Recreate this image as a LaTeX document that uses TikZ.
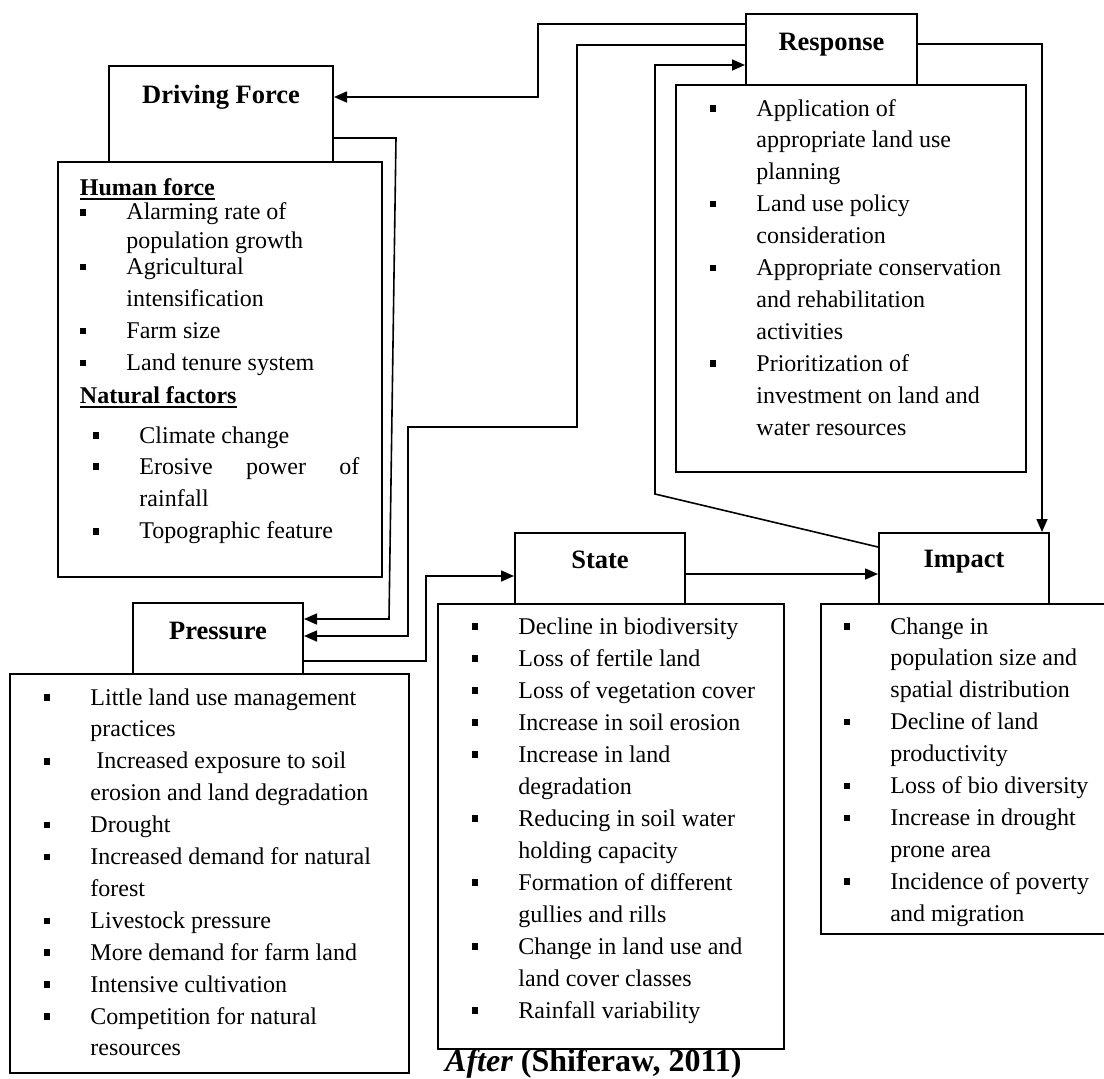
\documentclass[tikz,border=0pt]{standalone}
\usepackage{fontspec}
\setmainfont{Liberation Serif}
\usetikzlibrary{arrows.meta,calc}

% square bullet followed by the hanging indent of a list item
\newcommand\sqbul{\makebox[46.5pt][l]{\rule[4.3pt]{6.5pt}{6.5pt}}}
% indent of a continuation line
\newcommand\cont{\hspace*{46.5pt}}
% one typeset line
\newcommand\li[1]{\hbox{#1}}
% heavy underline for the sub-headings
\newcommand\uln[1]{\setbox0\hbox{#1}\rlap{\rule[-4.6pt]{\wd0}{1.8pt}}\box0}
% stack of lines with fixed baseline distance
\newcommand\itemlist[1]{\vtop{\baselineskip=31.9pt\lineskiplimit=-200pt\lineskip=0pt\relax #1}}

\tikzset{
  hbox/.style={draw, line width=2pt, inner sep=0pt, anchor=north west},
  htext/.style={font=\fontsize{26.5}{30}\selectfont\bfseries, inner sep=0pt, anchor=base},
  btext/.style={font=\fontsize{24}{31.9}\selectfont, inner sep=0pt, anchor=base west},
  conn/.style={line width=1.6pt, line join=miter},
  tip/.style={-{Triangle[length=13pt,width=11pt]}}
}

\begin{document}
\begin{tikzpicture}[x=1pt,y=-1pt]
\useasboundingbox (0,0) rectangle (1104,1079);
\fill[white] (0,0) rectangle (1104,1079);

% ---------- Driving force ----------
\node[hbox, minimum width=224pt, minimum height=96pt] (dfhead) at (108,65) {};
\node[htext] (dftitle) at ($(dfhead.north)+(0,38)$) {Driving Force};
\node[hbox, minimum width=324pt, minimum height=415pt] (dfbox) at (57,161) {};
\node[btext] (dflist) at (79.75,195) {\itemlist{%
\li{\bfseries\uln{Human force}}
\vskip-7pt
\li{\sqbul Alarming rate of}
\vskip-3.5pt
\li{\cont population growth}
\vskip-5.5pt
\li{\sqbul Agricultural}
\li{\cont intensification}
\li{\sqbul Farm size}
\li{\sqbul Land tenure system}
\vskip1pt
\li{\bfseries\uln{Natural factors}}
\vskip8pt
\li{\hspace*{13pt}\sqbul Climate change}
\vskip-1pt
\li{\hspace*{13pt}\sqbul\hbox to 220pt{Erosive\hfill power\hfill of}}
\li{\hspace*{13pt}\cont rainfall}
\vskip1pt
\li{\hspace*{13pt}\sqbul Topographic feature}
}};

% ---------- Response ----------
\node[hbox, minimum width=171pt, minimum height=71pt] (resphead) at (745,13) {};
\node[htext] (resptitle) at ($(resphead.north)+(0,37)$) {Response};
\node[hbox, minimum width=350pt, minimum height=387pt] (respbox) at (675,84) {};
\node[btext] (resplist) at (709.75,116) {\itemlist{%
\li{\sqbul Application of}
\li{\cont appropriate land use}
\li{\cont planning}
\li{\sqbul Land use policy}
\li{\cont consideration}
\li{\sqbul Appropriate conservation}
\li{\cont and rehabilitation}
\li{\cont activities}
\li{\sqbul Prioritization of}
\li{\cont investment on land and}
\li{\cont water resources}
}};

% ---------- Pressure ----------
\node[hbox, minimum width=170pt, minimum height=71pt] (presshead) at (132,602) {};
\node[htext] (presstitle) at ($(presshead.north)+(0,37)$) {Pressure};
\node[hbox, minimum width=399pt, minimum height=399pt] (pressbox) at (9,673) {};
\node[btext] (presslist) at (43.75,705) {\itemlist{%
\li{\sqbul Little land use management}
\li{\cont practices}
\li{\sqbul\hspace*{6pt}Increased exposure to soil}
\li{\cont erosion and land degradation}
\li{\sqbul Drought}
\li{\sqbul Increased demand for natural}
\li{\cont forest}
\li{\sqbul Livestock pressure}
\li{\sqbul More demand for farm land}
\li{\sqbul Intensive cultivation}
\li{\sqbul Competition for natural}
\li{\cont resources}
}};

% ---------- State ----------
\node[hbox, minimum width=170pt, minimum height=71pt] (statehead) at (514,532) {};
\node[htext] (statetitle) at ($(statehead.north)+(0,36)$) {State};
\node[hbox, minimum width=346pt, minimum height=445pt] (statebox) at (437,603) {};
\node[btext] (statelist) at (471.75,634) {\itemlist{\baselineskip=32pt
\li{\sqbul Decline in biodiversity}
\li{\sqbul Loss of fertile land}
\li{\sqbul Loss of vegetation cover}
\li{\sqbul Increase in soil erosion}
\li{\sqbul Increase in land}
\li{\cont degradation}
\li{\sqbul Reducing in soil water}
\li{\cont holding capacity}
\li{\sqbul Formation of different}
\li{\cont gullies and rills}
\li{\sqbul Change in land use and}
\li{\cont land cover classes}
\li{\sqbul Rainfall variability}
}};

% ---------- Impact ----------
\node[hbox, minimum width=170pt, minimum height=71pt] (impacthead) at (878,532) {};
\node[htext] (impacttitle) at ($(impacthead.north)+(0,35)$) {Impact};
\node[hbox, minimum width=320pt, minimum height=330pt] (impactbox) at (820,603) {};
\node[btext] (impactlist) at (843.75,634) {\itemlist{%
\li{\sqbul Change in}
\li{\cont population size and}
\li{\cont spatial distribution}
\li{\sqbul Decline of land}
\li{\cont productivity}
\li{\sqbul Loss of bio diversity}
\li{\sqbul Increase in drought}
\li{\cont prone area}
\li{\sqbul Incidence of poverty}
\li{\cont and migration}
}};

% ---------- source ----------
\node[anchor=base west, inner sep=0pt, font=\fontsize{32}{36}\selectfont\bfseries]
  (source) at (445,1071) {\textit{After} (Shiferaw, 2011)};

% ---------- connectors ----------
\coordinate (k1) at (538,24);
\coordinate (k2) at (538,97);
\draw[conn, tip] (resphead.west |- k1) -- (k1) -- (k2) -- (dfhead.east |- k2);

\coordinate (k3) at (577,45);
\coordinate (k4) at (577,427);
\coordinate (k5) at (408,427);
\coordinate (k6) at (408,636);
\draw[conn, tip] (resphead.west |- k3) -- (k3) -- (k4) -- (k5) -- (k6) -- (presshead.east |- k6);

\coordinate (k7) at (655,494);
\coordinate (k8) at (655,65);
\draw[conn, tip] ($(impacthead.north west)+(0,15)$) -- (k7) -- (k8) -- (resphead.west |- k8);

\coordinate (k9) at (1042,44);
\draw[conn, tip] (resphead.east |- k9) -- (k9) -- (k9 |- impacthead.north);

\coordinate (k10) at (396,138);
\coordinate (k11) at (389,619);
\draw[conn, tip] (dfhead.east |- k10) -- (k10) -- (k11) -- (presshead.east |- k11);

\coordinate (k12) at (426,661);
\coordinate (k13) at (426,576);
\draw[conn, tip] (presshead.east |- k12) -- (k12) -- (k13) -- (statehead.west |- k13);

\draw[conn, tip] ($(statehead.north east)+(0,42)$) -- ($(impacthead.north west)+(0,42)$);
\end{tikzpicture}
\end{document}
